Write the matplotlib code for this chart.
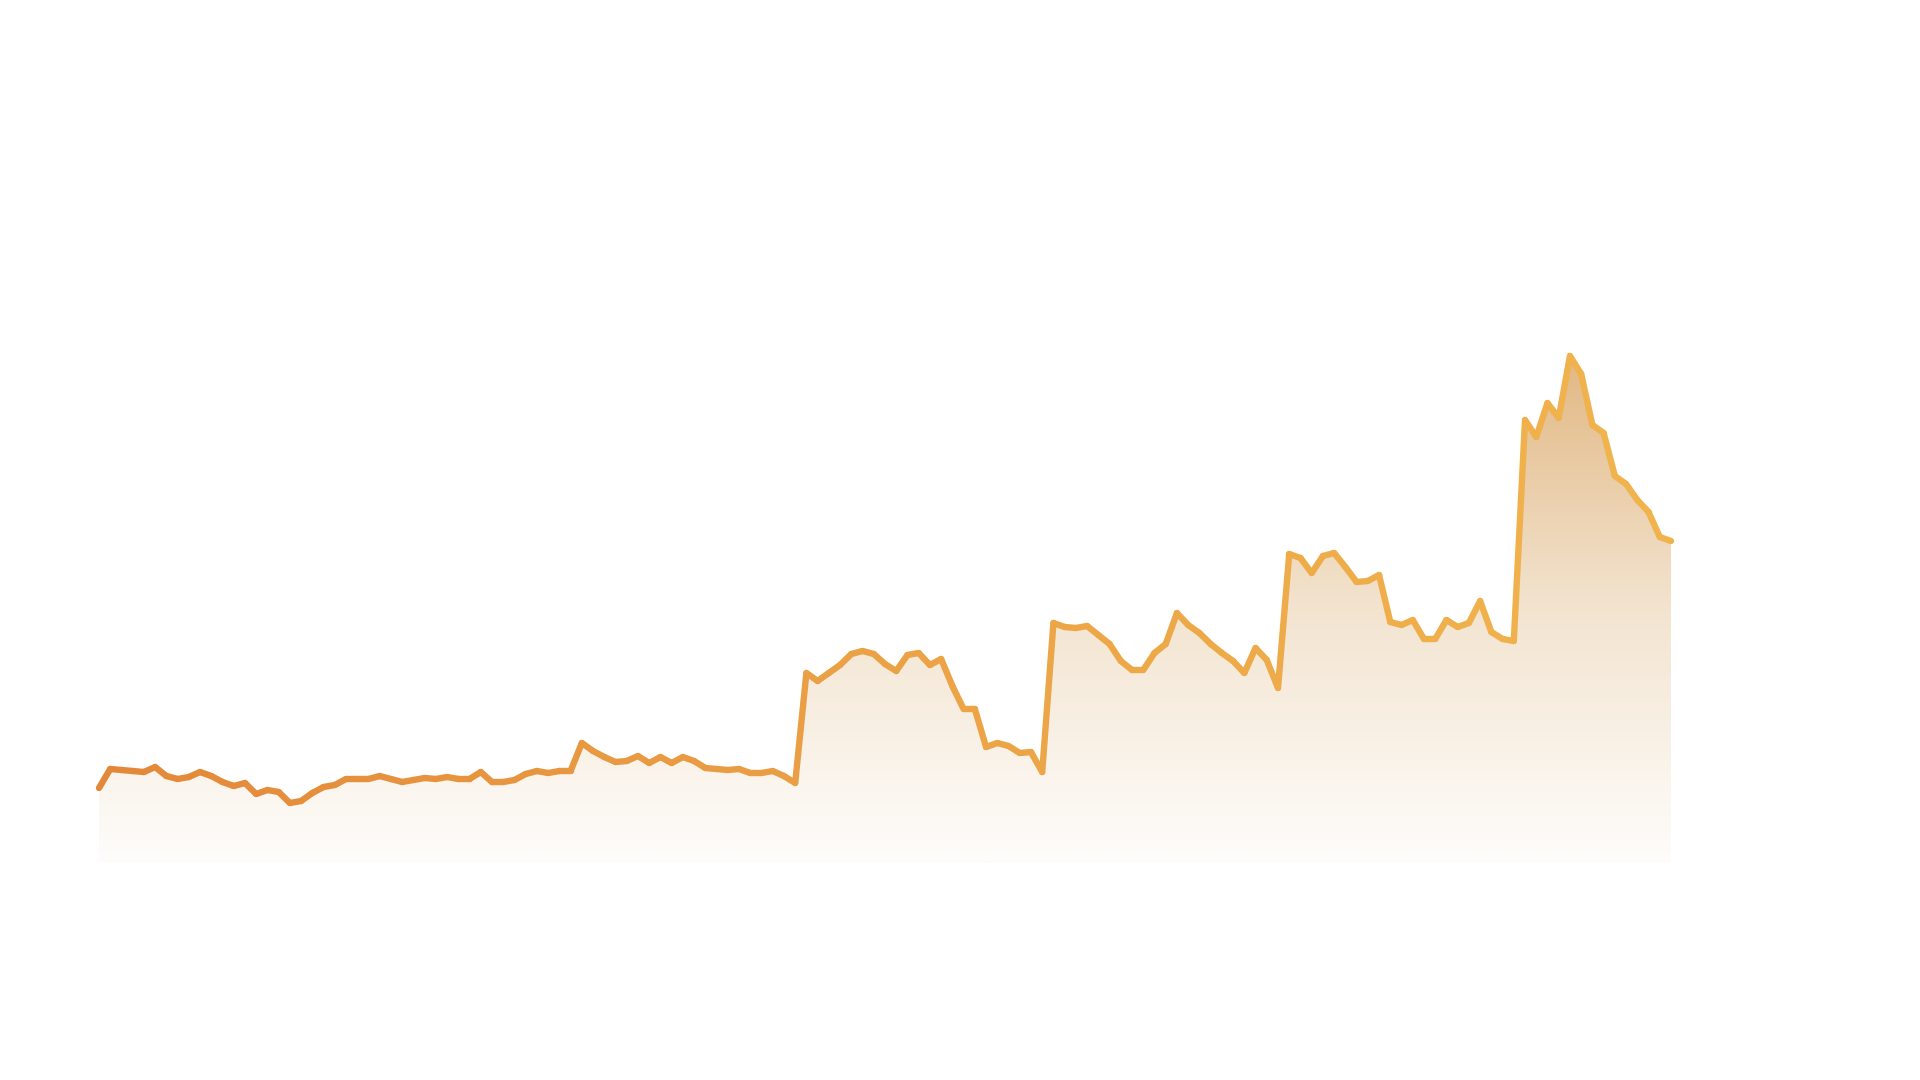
import numpy as np
import matplotlib
matplotlib.use("Agg")
import matplotlib.pyplot as plt
from matplotlib.collections import LineCollection
from matplotlib.colors import LinearSegmentedColormap
from matplotlib.patches import Polygon

# series values (height above the baseline)
values = [75, 94, 93, 92, 91, 96, 87, 84, 86, 91,
          87, 81, 77, 80, 69, 73, 71, 60, 62, 70,
          76, 78, 84, 84, 84, 87, 84, 81, 83, 85,
          84, 86, 84, 84, 91, 81, 81, 83, 89, 92,
          90, 92, 92, 120, 112, 106, 101, 102, 107, 100,
          106, 100, 106, 102, 95, 94, 93, 94, 90, 90,
          92, 87, 80, 190, 182, 190, 198, 209, 212, 209,
          199, 192, 208, 210, 198, 204, 177, 154, 154, 116,
          120, 117, 110, 111, 91, 240, 236, 235, 237, 228,
          219, 202, 193, 193, 210, 219, 250, 238, 230, 219,
          210, 202, 190, 215, 203, 175, 309, 305, 290, 307,
          310, 296, 281, 282, 288, 241, 238, 243, 224, 224,
          243, 236, 240, 262, 231, 224, 222, 443, 426, 460,
          445, 507, 489, 438, 430, 387, 379, 363, 351, 326,
          322]
x = np.arange(len(values))
y = np.array(values, dtype=float)

fig = plt.figure(figsize=(19.2, 10.8), dpi=100)
ax = fig.add_axes([99 / 1920, 217 / 1080, 1572 / 1920, 763 / 1080])
ax.set_xlim(0, len(values) - 1)
ax.set_ylim(0, 763)
ax.axis("off")

# area fill: vertical gradient from tan at the peak to white at the base
fill_cmap = LinearSegmentedColormap.from_list("fill", ["#fefdfb", "#f3e4d0", "#e2b883"])
grad = np.linspace(0, 1, 256).reshape(-1, 1)
img = ax.imshow(grad, cmap=fill_cmap, aspect="auto", origin="lower",
                extent=[0, len(values) - 1, 0, y.max()], zorder=1)
verts = np.vstack([[0, 0], np.column_stack([x, y]), [len(values) - 1, 0]])
poly = Polygon(verts, closed=True, facecolor="none", edgecolor="none")
ax.add_patch(poly)
img.set_clip_path(poly)

# line: horizontal gradient dark orange -> light orange
line_cmap = LinearSegmentedColormap.from_list("line", ["#e3883a", "#eba245", "#f1b44d"])
pts = np.column_stack([x, y]).reshape(-1, 1, 2)
segs = np.concatenate([pts[:-1], pts[1:]], axis=1)
lc = LineCollection(segs, cmap=line_cmap, linewidths=4.6,
                    capstyle="round", joinstyle="round", zorder=3, clip_on=False)
lc.set_array(x[:-1] / (len(values) - 1))
ax.add_collection(lc)

fig.savefig("out.png", dpi=100, facecolor="white")
